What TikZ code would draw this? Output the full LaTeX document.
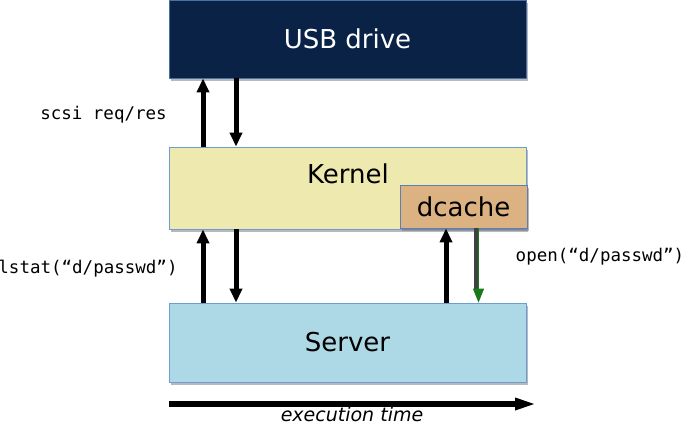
\documentclass[tikz,border=0pt]{standalone}
\usepackage{fontspec}
\setmainfont{DejaVu Sans}
\setmonofont{DejaVu Sans Mono}
\usetikzlibrary{arrows.meta,shadows}
\definecolor{usbfill}{HTML}{0B2247}
\definecolor{usbline}{HTML}{4A6FA5}
\definecolor{kernfill}{HTML}{EEEAAF}
\definecolor{kernline}{HTML}{6E9BD3}
\definecolor{cachefill}{HTML}{DDB283}
\definecolor{cacheline}{HTML}{5A7FB0}
\definecolor{servfill}{HTML}{ADD8E6}
\definecolor{servline}{HTML}{6E9BD3}
\definecolor{hitgreen}{HTML}{1A7A1A}
\begin{document}
\begin{tikzpicture}[x=1pt, y=-1pt,
	box/.style={draw=#1, line width=0.8pt, inner sep=0pt, font=\fontsize{26}{31}\selectfont,
		drop shadow={shadow xshift=1.5pt, shadow yshift=-2.5pt, fill=black!55, opacity=0.5}},
	call/.style={line width=5pt, -{Triangle[width=12pt,length=14pt]}},
	syscall/.style={font=\ttfamily\fontsize{17.5}{21}\selectfont, anchor=base, inner sep=0pt}]
	\useasboundingbox (0,0) rectangle (684,424);
	% the three layers
	\node[box=usbline, fill=usbfill, text=white, minimum width=357pt, minimum height=78pt] (usb) at (347.5,39) {USB drive};
	\node[box=kernline, fill=kernfill, minimum width=357pt, minimum height=82pt] (kernel) at (347.5,188) {};
	\node[font=\fontsize{26}{31}\selectfont, anchor=base, inner sep=0pt] (kerneltxt) at (348,183) {Kernel};
	\node[box=cacheline, fill=cachefill, minimum width=127pt, minimum height=43pt] (dcache) at (463.5,206.5) {dcache};
	\node[box=servline, fill=servfill, minimum width=357pt, minimum height=79pt] (server) at (347.5,342.5) {Server};
	% kernel <-> usb drive
	\draw[call] ([xshift=-144.5pt]kernel.north) -- ([xshift=-144.5pt]usb.south);
	\draw[call] ([xshift=-111.5pt]usb.south) -- ([xshift=-111.5pt]kernel.north);
	% server <-> kernel
	\draw[call] ([xshift=-144.5pt]server.north) -- ([xshift=-144.5pt]kernel.south);
	\draw[call] ([xshift=-111.5pt]kernel.south) -- ([xshift=-111.5pt]server.north);
	% server <-> dcache
	\draw[call] ([xshift=98.5pt]server.north) -- ([xshift=-17.5pt]dcache.south);
	\draw[line width=4pt, black!75, shorten >=12pt] ([xshift=12.5pt]dcache.south) -- ([xshift=128.5pt]server.north);
	\draw[line width=1.2pt, hitgreen, -{Triangle[width=11pt,length=14pt]}] ([xshift=15pt]dcache.south) -- ([xshift=131pt]server.north);
	% labels
	\node[syscall] (scsi) at (103.5,119) {scsi req/res};
	\node[syscall] (lstat) at (88,273) {lstat(“d/passwd”)};
	\node[syscall] (open) at (600,261) {open(“d/passwd”)};
	% time axis
	\coordinate (t0) at (169,404);
	\coordinate (t1) at (537,404);
	\draw[line width=6.5pt, -{Triangle[width=11pt,length=22pt]}] (t0) -- (t1);
	\node[font=\itshape\fontsize{19}{22}\selectfont, anchor=base, inner sep=0pt] (time) at (352,421) {execution time};
\end{tikzpicture}
\end{document}
